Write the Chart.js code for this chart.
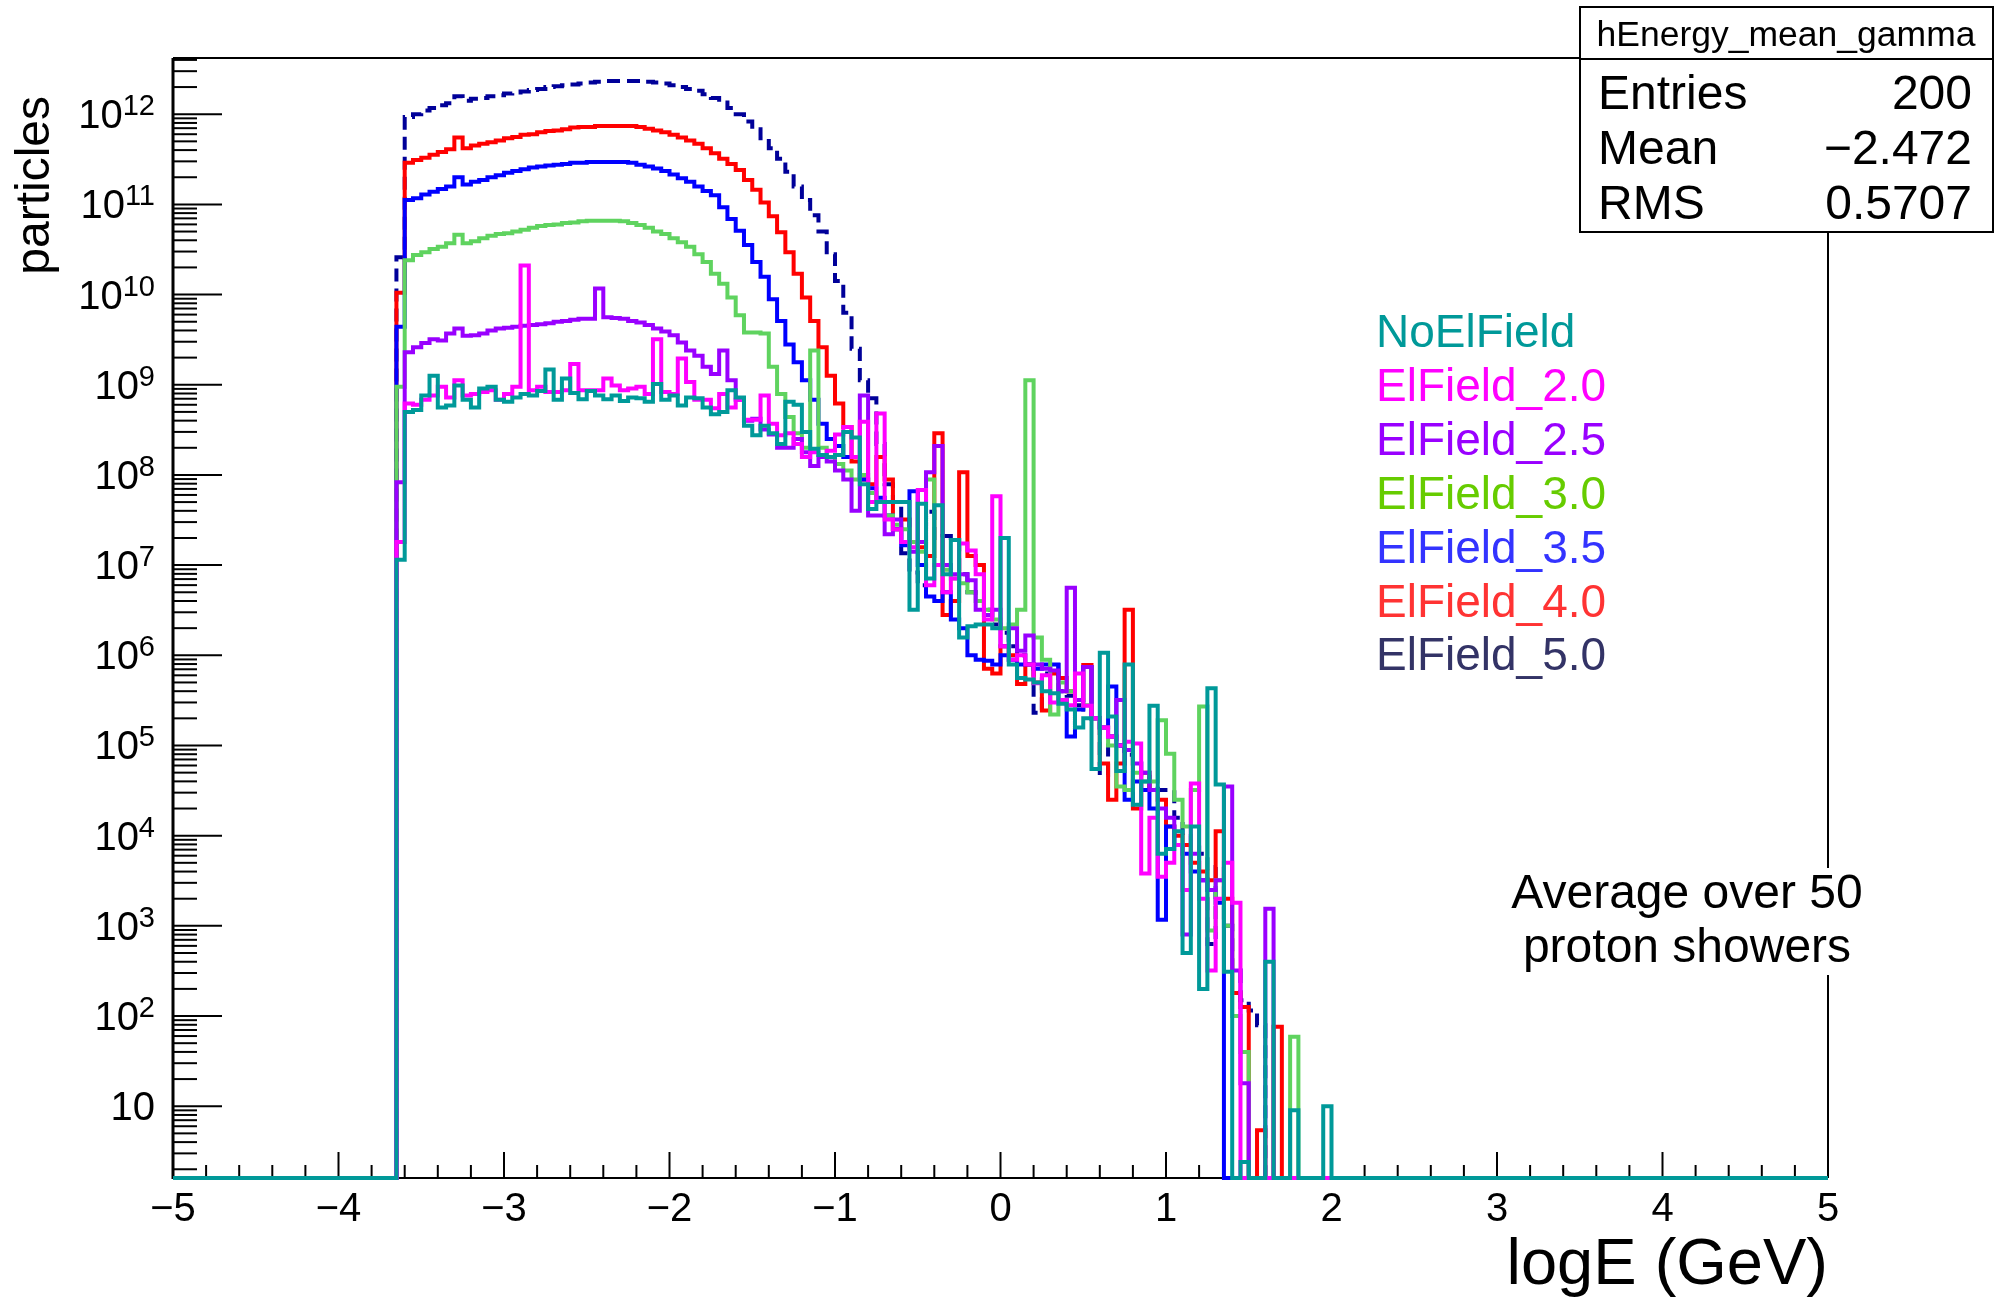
<!DOCTYPE html>
<html>
<head>
<meta charset="utf-8">
<script src="https://cdn.jsdelivr.net/npm/chart.js@4.4.1/dist/chart.umd.min.js"></script>
<style>
html,body{margin:0;padding:0;background:#fff;}
#wrap{width:2007px;height:1298px;position:relative;}
canvas{display:block;}
</style>
</head>
<body>
<div id="wrap"><canvas id="c" width="2007" height="1298"></canvas></div>
<script>
// ---- axis / binning ----
const X_MIN = -5, X_MAX = 5, BIN_WIDTH = 0.05, N_BINS = 200;
const FIRST_EDGE = -3.65;          // left edge of the first value in each series array
const Y_MIN = 1.6, Y_MAX = 4.2e12;
const xTickLabels = ['\u22125','\u22124','\u22123','\u22122','\u22121','0','1','2','3','4','5'];
const yDecades = [1,2,3,4,5,6,7,8,9,10,11,12];

// ---- series values (particles per bin, bins of 0.05 starting at logE = -3.65; other bins are 0) ----
const noElField = [
1.15e7,5.0e8,5.25e8,7.6e8,1.26e9,5.6e8,5.9e8,9.8e8,6.8e8,5.6e8,
9.1e8,9.5e8,6.8e8,6.5e8,7.2e8,7.9e8,7.6e8,8.5e8,1.48e9,6.8e8,
1.17e9,8.1e8,6.9e8,8.5e8,7.6e8,6.9e8,7.6e8,6.6e8,7.2e8,7.1e8,
6.5e8,1.02e9,6.8e8,7.6e8,5.9e8,7.2e8,7.1e8,5.6e8,4.7e8,5.0e8,
8.7e8,7.2e8,3.5e8,2.75e8,3.5e8,2.9e8,2.2e8,6.5e8,6.0e8,3.0e8,
1.95e8,1.66e8,1.58e8,1.66e8,3.0e8,2.6e8,7.9e7,4.2e7,5.0e7,5.0e7,
5.0e7,5.0e7,3.2e6,4.8e7,7.1e6,4.6e7,7.9e6,1.9e7,1.58e6,2.1e6,
2.2e6,2.2e6,2.0e6,2.0e7,7.9e5,5.6e5,5.4e5,5.0e5,4.0e5,3.8e5,
2.9e5,2.5e5,1.58e5,2.0e5,5.5e4,1.07e6,2.1e5,5.2e4,7.9e5,2.2e4,
4.0e4,2.75e5,6.3e3,7.1e3,1.12e4,500,1.26e4,200,4.3e5,3.7e4,
310,0,2.4,0,0,400,0,0,9,0,
0,0,10];
const elField20 = [
1.8e7,6.2e8,6.0e8,6.8e8,7.6e8,9.5e8,7.2e8,1.12e9,7.6e8,7.9e8,
8.3e8,8.7e8,6.8e8,7.9e8,9.5e8,2.1e10,8.7e8,9.5e8,8.3e8,8.3e8,
8.7e8,1.7e9,8.7e8,8.7e8,8.7e8,1.17e9,9.8e8,8.7e8,9.1e8,9.5e8,
7.9e8,3.2e9,8.3e8,7.9e8,1.95e9,1.07e9,6.8e8,6.8e8,5.5e8,7.9e8,
5.6e8,6.8e8,4.1e8,4.1e8,7.6e8,3.7e8,2.75e8,2.9e8,2.2e8,1.58e8,
1.78e8,1.66e8,1.86e8,2.8e8,3.4e8,1.58e8,3.9e8,5.0e7,4.8e8,3.2e7,
2.5e7,1.8e7,1.58e7,6.8e7,6.0e6,1.0e7,5.0e6,7.1e6,1.74e7,1.45e7,
7.9e6,2.5e6,5.8e7,1.26e6,8.9e5,1.0e6,7.9e5,4.9e5,6.0e5,3.0e5,
3.2e5,2.8e5,6.3e5,2.75e5,2.0e5,1.58e5,1.26e5,1.0e5,1.1e5,1.05e5,
3.8e3,1.58e4,3.5e3,5.0e3,7.9e3,2.5e3,3.8e4,2.0e3,320,2.0e3,
5.0e3,1.8e3,0,0,0,0,0,0,0,0,
0,0,0];
const elField25 = [
8.3e7,2.3e9,2.6e9,2.9e9,3.2e9,3.1e9,3.7e9,4.2e9,3.5e9,3.55e9,
3.7e9,4.0e9,4.2e9,4.3e9,4.4e9,4.5e9,4.6e9,4.7e9,4.8e9,5.0e9,
5.1e9,5.25e9,5.4e9,5.4e9,1.17e10,5.6e9,5.5e9,5.4e9,5.1e9,4.9e9,
4.6e9,4.2e9,3.9e9,3.55e9,2.95e9,2.4e9,2.1e9,1.58e9,1.32e9,2.4e9,
1.12e9,6.8e8,4.0e8,4.2e8,3.2e8,2.8e8,2.0e8,2.0e8,2.5e8,1.78e8,
1.26e8,1.58e8,1.41e8,1.12e8,8.9e7,4.0e7,7.6e8,3.55e7,3.55e7,2.2e7,
3.2e7,1.8e7,1.41e7,1.8e7,1.07e8,2.1e8,1.0e7,7.9e6,7.9e6,6.8e6,
3.2e6,2.8e6,3.2e6,1.26e6,2.0e6,1.12e6,1.66e6,7.9e5,7.1e5,6.8e5,
4.0e5,5.6e6,3.2e5,7.4e5,2.0e5,1.58e5,1.26e5,3.2e5,8.9e4,6.3e4,
5.0e4,3.2e4,2.0e4,1.58e4,7.9e3,800,6.3e3,3.2e3,2.5e3,3.2e3,
3.5e4,320,18,0,0,1.55e3,0,0,0,0,
0,0,0];
const elField30 = [
9.5e8,2.4e10,2.75e10,2.95e10,3.2e10,3.4e10,3.7e10,4.6e10,3.7e10,3.9e10,
4.2e10,4.5e10,4.7e10,4.8e10,5.0e10,5.25e10,5.5e10,5.75e10,5.9e10,6.0e10,
6.2e10,6.3e10,6.5e10,6.6e10,6.6e10,6.6e10,6.6e10,6.5e10,6.2e10,5.9e10,
5.5e10,5.0e10,4.7e10,4.2e10,3.8e10,3.4e10,2.8e10,2.3e10,1.7e10,1.32e10,
9.3e9,5.9e9,3.8e9,3.8e9,3.7e9,1.58e9,7.9e8,4.4e8,2.9e8,2.0e8,
2.4e9,2.0e8,1.58e8,1.32e8,1.12e8,8.9e7,1.0e8,6.3e7,5.0e7,3.55e7,
2.8e7,2.5e7,1.8e7,1.41e7,8.9e7,1.0e7,8.9e6,7.1e6,6.3e6,5.0e6,
4.0e6,3.2e6,2.5e6,2.0e6,2.2e6,3.2e6,1.12e9,1.58e6,8.9e5,2.2e5,
5.0e5,4.0e5,3.2e5,2.8e5,2.0e5,1.58e5,1.0e5,3.5e4,3.2e4,5.0e4,
4.0e4,4.0e4,1.9e5,8.1e4,2.5e4,1.26e4,3.2e4,2.7e5,890,3.2e3,
1.0e3,100,40,0,0,0,0,0,59,0,
0,0,0];
const elField35 = [
4.4e9,1.12e11,1.17e11,1.29e11,1.38e11,1.48e11,1.58e11,2.0e11,1.66e11,1.78e11,
1.86e11,2.0e11,2.1e11,2.24e11,2.34e11,2.45e11,2.57e11,2.63e11,2.7e11,2.75e11,
2.8e11,2.9e11,2.9e11,2.95e11,2.95e11,2.95e11,2.95e11,2.95e11,2.9e11,2.75e11,
2.63e11,2.5e11,2.34e11,2.14e11,1.95e11,1.78e11,1.58e11,1.41e11,1.26e11,9.3e10,
6.9e10,5.1e10,3.55e10,2.3e10,1.58e10,8.9e9,5.1e9,2.8e9,1.78e9,1.12e9,
6.8e8,3.7e8,2.5e8,2.1e8,1.58e8,1.58e8,8.9e7,7.1e7,5.6e7,3.55e7,
2.5e7,1.66e7,6.6e7,1.0e7,4.5e6,4.0e6,5.0e6,2.5e6,2.0e6,1.0e6,
8.9e5,8.7e5,7.9e5,1.0e6,8.9e5,7.9e5,7.9e5,7.1e5,7.9e5,7.9e5,
3.2e5,1.26e5,2.5e5,7.4e5,2.0e5,1.58e5,4.5e5,1.0e5,2.5e4,4.0e4,
3.2e4,2.0e4,1.17e3,1.26e4,7.9e3,6.3e3,4.0e3,3.2e3,2.5e3,1.8e3,
0,0,0,0,0,0,0,0,0,0,
0,0,0];
const elField40 = [
1.05e10,2.9e11,3.1e11,3.3e11,3.55e11,3.8e11,4.1e11,5.5e11,4.2e11,4.5e11,
4.7e11,4.9e11,5.1e11,5.4e11,5.6e11,5.9e11,6.0e11,6.3e11,6.5e11,6.6e11,
6.8e11,7.1e11,7.2e11,7.2e11,7.4e11,7.4e11,7.4e11,7.4e11,7.4e11,7.2e11,
6.9e11,6.6e11,6.3e11,5.9e11,5.5e11,5.1e11,4.7e11,4.2e11,3.7e11,3.2e11,
2.8e11,2.4e11,1.86e11,1.45e11,1.05e11,7.4e10,4.9e10,2.95e10,1.7e10,9.3e9,
5.1e9,2.6e9,1.26e9,6.2e8,3.4e8,1.41e8,8.9e7,7.9e7,1.58e8,8.9e7,
2.5e7,3.2e7,1.8e7,1.58e7,1.26e7,2.9e8,2.8e6,4.0e6,1.07e8,1.26e7,
1.0e7,7.1e5,6.3e5,1.26e6,1.0e6,4.8e5,7.9e5,5.0e5,2.45e5,6.3e5,
5.6e5,4.0e5,3.2e5,7.8e5,2.0e5,6.3e4,2.5e4,6.3e4,3.2e6,2.0e4,
5.0e4,3.2e4,2.5e4,1.26e4,1.0e4,7.9e3,5.0e3,4.0e3,3.2e3,1.12e4,
2.0e3,180,126,0,5.4,0,76,0,0,0,
0,0,0];
const elField50 = [
2.6e10,9.3e11,1.0e12,1.1e12,1.17e12,1.26e12,1.32e12,1.58e12,1.41e12,1.48e12,
1.51e12,1.58e12,1.62e12,1.7e12,1.74e12,1.78e12,1.86e12,1.9e12,2.0e12,2.04e12,
2.09e12,2.14e12,2.19e12,2.24e12,2.29e12,2.34e12,2.34e12,2.34e12,2.34e12,2.34e12,
2.29e12,2.24e12,2.19e12,2.09e12,2.0e12,1.9e12,1.82e12,1.66e12,1.51e12,1.35e12,
1.17e12,1.0e12,8.3e11,6.8e11,5.4e11,4.2e11,3.2e11,2.3e11,1.58e11,1.12e11,
7.6e10,5.0e10,2.8e10,1.41e10,6.3e9,2.5e9,1.12e9,7.1e8,2.2e8,7.9e7,
5.0e7,1.35e7,8.3e6,6.0e6,3.9e7,2.0e7,2.1e7,2.0e7,7.9e6,5.0e6,
4.0e6,3.2e6,2.2e6,1.78e6,1.26e6,1.0e6,7.9e5,2.3e5,6.3e5,7.8e5,
4.0e5,3.55e5,2.8e5,2.5e5,2.0e5,4.7e4,1.26e5,1.0e5,7.9e4,6.3e4,
4.5e4,3.55e4,3.2e4,3.2e4,1.58e4,1.0e4,7.9e3,6.3e3,630,4.5e3,
1.0e3,320,150,115,79,0,0,0,0,0,
0,0,0];

const seriesNames = ['NoElField','ElField_2.0','ElField_2.5','ElField_3.0','ElField_3.5','ElField_4.0','ElField_5.0'];
const seriesValues = [noElField, elField20, elField25, elField30, elField35, elField40, elField50];

// ---- styles ----
const FONT = "'Liberation Sans', Arial, Helvetica, sans-serif";
const lineColors = ['#009999','#ff00ff','#9900ff','#5fd35f','#0000ff','#ff0000','#000099'];
const textColors = ['#009999','#ff00ff','#9900ff','#66cc00','#3333ff','#ff3333','#333366'];
const dashes = [[],[],[],[],[],[],[13,7]];

const OFFSET = Math.round((FIRST_EDGE - X_MIN) / BIN_WIDTH);
function toPoints(vals) {
  const pts = [];
  for (let i = 0; i < N_BINS; i++) {
    const k = i - OFFSET;
    const v = (k >= 0 && k < vals.length) ? vals[k] : 0;
    pts.push({x: X_MIN + i * BIN_WIDTH, y: v > 0 ? v : Y_MIN}); // empty bins sit on the axis, as in ROOT
  }
  pts.push({x: X_MAX, y: pts[pts.length - 1].y});
  return pts;
}

const datasets = seriesValues.map((vals, s) => ({
  label: seriesNames[s],
  data: toPoints(vals),
  borderColor: lineColors[s],
  backgroundColor: lineColors[s],
  borderWidth: 4,
  borderDash: dashes[s],
  borderCapStyle: 'butt',
  borderJoinStyle: 'miter',
  stepped: true,
  pointRadius: 0,
  fill: false,
  tension: 0,
  clip: 3
}));

const AREA = {left: 173, right: 1828, top: 58, bottom: 1178};

const rootDecor = {
  id: 'rootDecor',
  beforeDraw(chart) {
    const c = chart.ctx;
    c.save(); c.fillStyle = '#fff'; c.fillRect(0, 0, chart.width, chart.height); c.restore();
  },
  beforeDatasetsDraw(chart) {
    const {ctx, chartArea: a, scales: {x, y}} = chart;
    ctx.save();
    ctx.strokeStyle = '#000';
    ctx.lineWidth = 2;
    ctx.beginPath();
    ctx.moveTo(a.left, a.top); ctx.lineTo(a.right, a.top); ctx.lineTo(a.right, a.bottom);
    ctx.stroke();
    ctx.beginPath(); ctx.moveTo(a.left, a.bottom); ctx.lineTo(a.right, a.bottom); ctx.stroke();
    ctx.lineWidth = 3;
    ctx.beginPath(); ctx.moveTo(a.left, a.top); ctx.lineTo(a.left, a.bottom + 1); ctx.stroke();
    ctx.lineWidth = 2;
    for (let k = 0; k <= 50; k++) {
      const px = x.getPixelForValue(X_MIN + k * 0.2);
      const len = (k % 5 === 0) ? 26 : 13;
      ctx.beginPath(); ctx.moveTo(px, a.bottom); ctx.lineTo(px, a.bottom - len); ctx.stroke();
    }
    for (let n = 0; n <= 12; n++) {
      for (let m = 1; m <= 9; m++) {
        const v = m * Math.pow(10, n);
        if (v < Y_MIN || v > Y_MAX) continue;
        const py = y.getPixelForValue(v);
        const len = m === 1 ? 49 : 24;
        ctx.beginPath(); ctx.moveTo(a.left, py); ctx.lineTo(a.left + len, py); ctx.stroke();
      }
    }
    ctx.restore();
  },
  afterDraw(chart) {
    const {ctx, scales: {y}} = chart;
    ctx.save();
    ctx.fillStyle = '#000';
    // y tick labels 10^n
    const baseFont = '40px ' + FONT, expFont = '29px ' + FONT;
    const rightX = 155;
    yDecades.forEach(n => {
      const py = y.getPixelForValue(Math.pow(10, n));
      ctx.textBaseline = 'alphabetic';
      if (n === 1) {
        ctx.font = baseFont; ctx.textAlign = 'right';
        ctx.fillText('10', rightX, py + 14);
      } else {
        ctx.font = expFont;
        const e = String(n);
        const ew = ctx.measureText(e).width;
        ctx.textAlign = 'left';
        ctx.fillText(e, rightX - ew, py + 1);
        ctx.font = baseFont; ctx.textAlign = 'right';
        ctx.fillText('10', rightX - ew, py + 14);
      }
    });
    // y title
    ctx.save();
    ctx.translate(49, 96);
    ctx.rotate(-Math.PI / 2);
    ctx.font = '48px ' + FONT; ctx.textAlign = 'right'; ctx.textBaseline = 'alphabetic';
    ctx.fillText('particles', 0, 0);
    ctx.restore();
    // legend (coloured text only)
    ctx.font = '46px ' + FONT; ctx.textAlign = 'left'; ctx.textBaseline = 'alphabetic';
    const legY = [347, 401, 455, 509, 563, 617, 670];
    seriesNames.forEach((nm, s) => { ctx.fillStyle = textColors[s]; ctx.fillText(nm, 1376, legY[s]); });
    // annotation
    ctx.fillStyle = '#fff';
    ctx.fillRect(1505, 868, 362, 107);
    ctx.fillStyle = '#000'; ctx.textAlign = 'center';
    ctx.font = '48px ' + FONT;
    ctx.fillText('Average over 50', 1687, 908);
    ctx.fillText('proton showers', 1687, 962);
    // stats box
    ctx.fillStyle = '#fff';
    ctx.fillRect(1580, 7, 413, 225);
    ctx.strokeStyle = '#000'; ctx.lineWidth = 2;
    ctx.strokeRect(1580, 7, 413, 225);
    ctx.beginPath(); ctx.moveTo(1580, 59); ctx.lineTo(1993, 59); ctx.stroke();
    ctx.fillStyle = '#000';
    ctx.font = '35.5px ' + FONT; ctx.textAlign = 'center';
    ctx.fillText('hEnergy_mean_gamma', 1786, 46);
    ctx.font = '48px ' + FONT;
    const rows = [['Entries','200',109],['Mean','\u22122.472',164],['RMS','0.5707',219]];
    rows.forEach(r => {
      ctx.textAlign = 'left'; ctx.fillText(r[0], 1598, r[2]);
      ctx.textAlign = 'right'; ctx.fillText(r[1], 1972, r[2]);
    });
    ctx.restore();
  }
};

new Chart(document.getElementById('c'), {
  type: 'line',
  data: {datasets},
  options: {
    responsive: false,
    animation: false,
    devicePixelRatio: 1,
    events: [],
    layout: {padding: {left: AREA.left, right: 2007 - AREA.right, top: AREA.top, bottom: 0}},
    plugins: {legend: {display: false}, tooltip: {enabled: false}, title: {display: false}},
    scales: {
      x: {
        type: 'linear', min: X_MIN, max: X_MAX,
        grid: {display: false, drawTicks: false},
        border: {display: false},
        ticks: {
          stepSize: 1, autoSkip: false, maxRotation: 0, minRotation: 0, padding: 8,
          color: '#000', font: {family: FONT, size: 40},
          callback: (v) => xTickLabels[Math.round(v - X_MIN)]
        },
        title: {display: true, text: 'logE (GeV)', align: 'end', color: '#000',
                font: {family: FONT, size: 65}, padding: {top: 0, bottom: -7}},
        afterFit: (s) => { s.height = 1298 - AREA.bottom; }
      },
      y: {type: 'logarithmic', min: Y_MIN, max: Y_MAX, display: false}
    }
  },
  plugins: [rootDecor]
});
</script>
</body>
</html>
